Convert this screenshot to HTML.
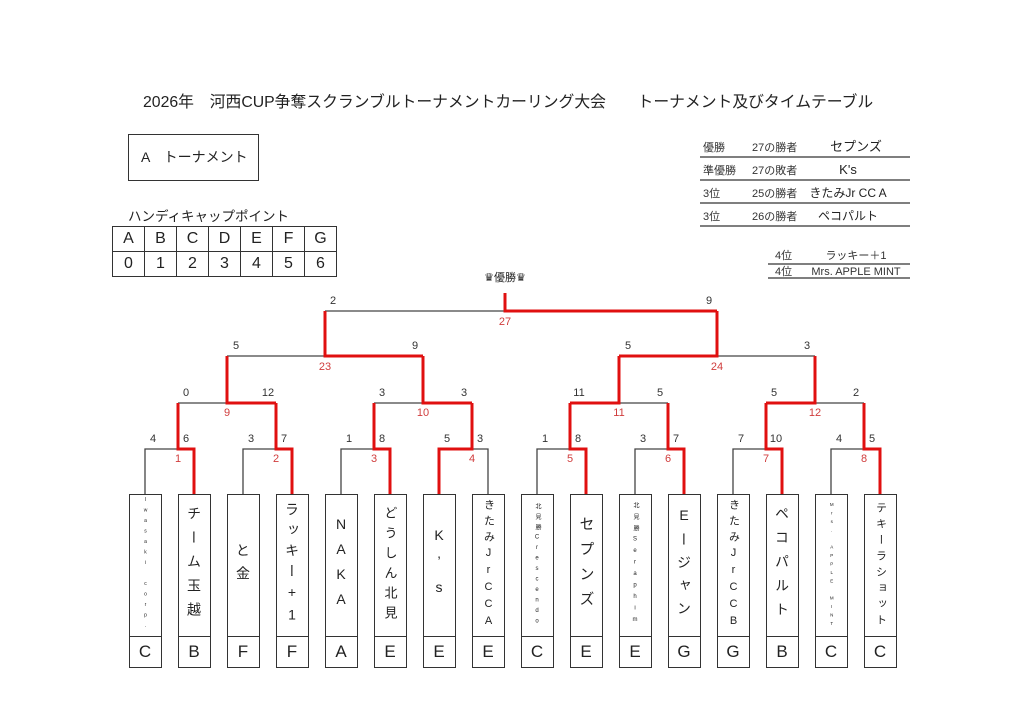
<!DOCTYPE html>
<html><head><meta charset="utf-8"><style>
body{margin:0;background:#fff;}
#c{position:relative;width:1024px;height:724px;overflow:hidden;font-family:"Liberation Sans","Noto Sans CJK JP",sans-serif;color:#222;}
.a{position:absolute;}
.nm{position:absolute;top:494px;width:33px;height:143px;border:1.3px solid #333;box-sizing:border-box;display:flex;align-items:center;justify-content:center;overflow:hidden;}
.nm span{writing-mode:vertical-rl;text-orientation:upright;white-space:pre;line-height:1;}
.lt{position:absolute;top:636px;width:33px;height:32px;border:1.3px solid #333;box-sizing:border-box;text-align:center;line-height:30px;font-size:17px;}
table.h{position:absolute;left:112px;top:226px;border-collapse:collapse;}
table.h td{border:1.3px solid #333;width:31px;height:24px;text-align:center;font-size:16px;padding:0;}
</style></head><body><div id="c">
<div class="a" style="left:143px;top:89px;font-size:15.8px;white-space:nowrap;">2026年　河西CUP争奪スクランブルトーナメントカーリング大会　　トーナメント及びタイムテーブル</div>
<div class="a" style="left:128px;top:134px;width:131px;height:47px;border:1.3px solid #333;box-sizing:border-box;font-size:14px;line-height:44px;padding-left:12px;">A　トーナメント</div>
<div class="a" style="left:128px;top:205px;font-size:13.5px;">ハンディキャップポイント</div>
<table class="h"><tr><td>A</td><td>B</td><td>C</td><td>D</td><td>E</td><td>F</td><td>G</td></tr><tr><td>0</td><td>1</td><td>2</td><td>3</td><td>4</td><td>5</td><td>6</td></tr></table>

<svg class="a" style="left:0;top:0" width="1024" height="724">
<g stroke="#333" stroke-width="1.3">
<line x1="700" y1="157" x2="910" y2="157"/><line x1="700" y1="180" x2="910" y2="180"/><line x1="700" y1="203" x2="910" y2="203"/><line x1="700" y1="226" x2="910" y2="226"/>
<line x1="768" y1="264" x2="910" y2="264"/><line x1="768" y1="278" x2="910" y2="278"/>
</g>
<g font-size="11" fill="#333">
<text x="703" y="151">優勝</text><text x="752" y="151">27の勝者</text>
<text x="703" y="174">準優勝</text><text x="752" y="174">27の敗者</text>
<text x="703" y="197">3位</text><text x="752" y="197">25の勝者</text>
<text x="703" y="220">3位</text><text x="752" y="220">26の勝者</text>
<text x="775" y="259">4位</text><text x="775" y="275">4位</text>
<text x="856" y="259" text-anchor="middle">ラッキー＋1</text>
<text x="856" y="275" text-anchor="middle">Mrs. APPLE MINT</text>
</g>
<g font-size="13" fill="#222" text-anchor="middle">
<text x="856" y="151">セプンズ</text><text x="848" y="174">K's</text>
<text x="848" y="197" font-size="12">きたみJr CC A</text><text x="848" y="220" font-size="12">ペコパルト</text>
</g>
<text x="505" y="281" font-size="11" text-anchor="middle" fill="#222">♛優勝♛</text>

<g stroke="#444" stroke-width="1.3" fill="none">
<path d="M145 494V449H194V494M243 494V449H292V494M341 494V449H390V494M439 494V449H488V494M537 494V449H586V494M635 494V449H684V494M733 494V449H782V494M831 494V449H880V494"/>
<path d="M178 403H276M374 403H472M570 403H668M766 403H864M227 356H423M619 356H815M325 311H717"/>
</g>
<g stroke="#e01010" stroke-width="3" fill="none">
<path d="M194 494V449H178V403"/><path d="M292 494V449H276V403"/><path d="M390 494V449H374V403"/><path d="M439 494V449H472V403"/>
<path d="M586 494V449H570V403"/><path d="M684 494V449H668V403"/><path d="M782 494V449H766V403"/><path d="M880 494V449H864V403"/>
<path d="M276 403H227V356"/><path d="M472 403H423V356"/><path d="M570 403H619V356"/><path d="M766 403H815V356"/>
<path d="M423 356H325V311"/><path d="M619 356H717V311"/><path d="M717 311H505V293"/>
</g>
<g font-size="11" fill="#333" text-anchor="middle">
<text x="153" y="442">4</text><text x="186" y="442">6</text><text x="251" y="442">3</text><text x="284" y="442">7</text>
<text x="349" y="442">1</text><text x="382" y="442">8</text><text x="447" y="442">5</text><text x="480" y="442">3</text>
<text x="545" y="442">1</text><text x="578" y="442">8</text><text x="643" y="442">3</text><text x="676" y="442">7</text>
<text x="741" y="442">7</text><text x="776" y="442">10</text><text x="839" y="442">4</text><text x="872" y="442">5</text>
<text x="186" y="396">0</text><text x="268" y="396">12</text><text x="382" y="396">3</text><text x="464" y="396">3</text>
<text x="579" y="396">11</text><text x="660" y="396">5</text><text x="774" y="396">5</text><text x="856" y="396">2</text>
<text x="236" y="349">5</text><text x="415" y="349">9</text><text x="628" y="349">5</text><text x="807" y="349">3</text>
<text x="333" y="304">2</text><text x="709" y="304">9</text>
</g>
<g font-size="11" fill="#d03c3c" text-anchor="middle">
<text x="178" y="462">1</text><text x="276" y="462">2</text><text x="374" y="462">3</text><text x="472" y="462">4</text>
<text x="570" y="462">5</text><text x="668" y="462">6</text><text x="766" y="462">7</text><text x="864" y="462">8</text>
<text x="227" y="416">9</text><text x="423" y="416">10</text><text x="619" y="416">11</text><text x="815" y="416">12</text>
<text x="325" y="370">23</text><text x="717" y="370">24</text><text x="505" y="325">27</text>
</g>
</svg>

<div class="nm" style="left:128.5px"><span style="font-size:5px;letter-spacing:4.5px">Iwasaki corp.</span></div>
<div class="nm" style="left:177.5px"><span style="font-size:14px;letter-spacing:10px">チーム玉越</span></div>
<div class="nm" style="left:226.5px"><span style="font-size:14px;letter-spacing:9px">と金</span></div>
<div class="nm" style="left:275.5px"><span style="font-size:14px;letter-spacing:6.5px">ラッキー+1</span></div>
<div class="nm" style="left:324.5px"><span style="font-size:14px;letter-spacing:9px">NAKA</span></div>
<div class="nm" style="left:373.5px"><span style="font-size:13px;letter-spacing:7px">どうしん北見</span></div>
<div class="nm" style="left:422.5px"><span style="font-size:14px;letter-spacing:10px">K’s</span></div>
<div class="nm" style="left:471.5px"><span style="font-size:11px;letter-spacing:5px">きたみJrCCA</span></div>
<div class="nm" style="left:520.5px"><span style="font-size:6px;letter-spacing:4.5px">北見勝Crescendo</span></div>
<div class="nm" style="left:569.5px"><span style="font-size:15px;letter-spacing:10px">セプンズ</span></div>
<div class="nm" style="left:618.5px"><span style="font-size:6px;letter-spacing:5.5px">北見勝Seraphim</span></div>
<div class="nm" style="left:667.5px"><span style="font-size:14px;letter-spacing:9px">Eージャン</span></div>
<div class="nm" style="left:716.5px"><span style="font-size:11px;letter-spacing:5px">きたみJrCCB</span></div>
<div class="nm" style="left:765.5px"><span style="font-size:14px;letter-spacing:10px">ペコパルト</span></div>
<div class="nm" style="left:814.5px"><span style="font-size:4.5px;letter-spacing:3.5px">Mrs. APPLE MINT</span></div>
<div class="nm" style="left:863.5px"><span style="font-size:11px;letter-spacing:5px">テキーラショット</span></div>

<div class="lt" style="left:128.5px">C</div><div class="lt" style="left:177.5px">B</div><div class="lt" style="left:226.5px">F</div><div class="lt" style="left:275.5px">F</div>
<div class="lt" style="left:324.5px">A</div><div class="lt" style="left:373.5px">E</div><div class="lt" style="left:422.5px">E</div><div class="lt" style="left:471.5px">E</div>
<div class="lt" style="left:520.5px">C</div><div class="lt" style="left:569.5px">E</div><div class="lt" style="left:618.5px">E</div><div class="lt" style="left:667.5px">G</div>
<div class="lt" style="left:716.5px">G</div><div class="lt" style="left:765.5px">B</div><div class="lt" style="left:814.5px">C</div><div class="lt" style="left:863.5px">C</div>
</div></body></html>
